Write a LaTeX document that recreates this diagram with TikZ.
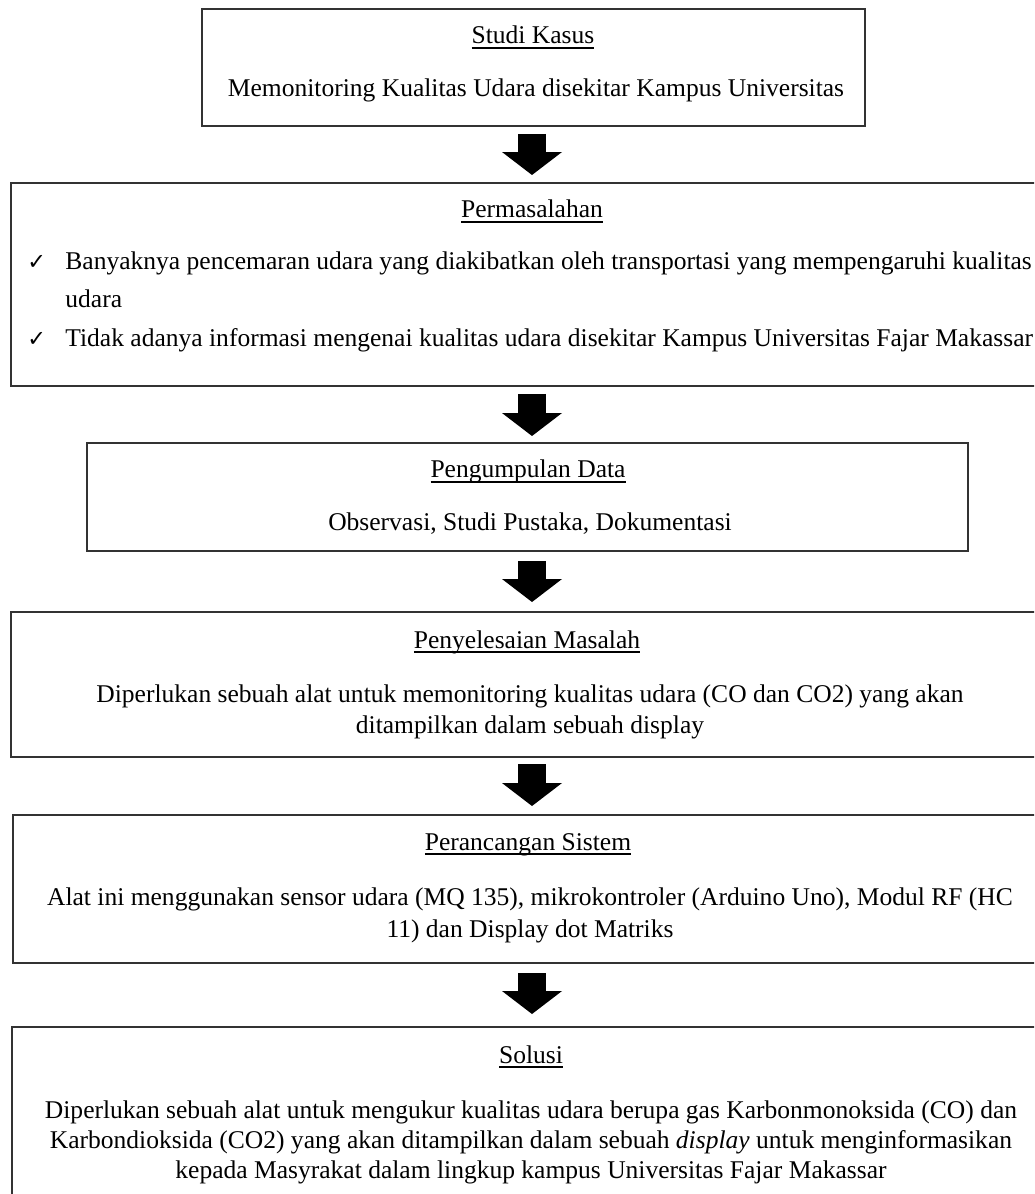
\documentclass[tikz,border=0pt]{standalone}
\usepackage{fontspec}
\setmainfont{Liberation Serif}
\newfontfamily\checkfont{DejaVu Sans}
\usetikzlibrary{arrows.meta}
\newcommand{\pu}{0.47pt}
\newsavebox{\ulbox}
\newcommand{\ulword}[1]{\sbox{\ulbox}{#1}\rlap{\rule[-2.2pt]{\wd\ulbox}{0.6pt}}\usebox{\ulbox}}
\tikzset{>=latex}
\tikzset{
  box/.style={draw=black!80, line width=0.94pt, rectangle, inner sep=0pt},
  head/.style={anchor=base, inner sep=0pt, font=\fontsize{12}{14.4}\selectfont},
  body/.style={anchor=base, inner sep=0pt, font=\fontsize{12}{14.4}\selectfont},
  item/.style={anchor=base west, inner sep=0pt, font=\fontsize{12}{14.4}\selectfont},
  tick/.style={anchor=base west, inner sep=0pt, font=\checkfont\fontsize{10.5}{12}\selectfont},
  bigarrow/.style 2 args={line width=13.6pt,
    -{Triangle[width=28.2pt, length=10.8pt, line width=0pt]},
    shorten <=#1*\pu, shorten >=#2*\pu}
}

\begin{document}
\begin{tikzpicture}[x=\pu, y=-\pu]
\useasboundingbox (0,0) rectangle (1034,1194);
\clip (0,0) rectangle (1034,1194);
\coordinate (col) at (532,0);

% boxes
\node[box, minimum width=663*\pu, minimum height=117*\pu] (studi) at (533.5,67.5) {};
\node[box, minimum width=1039*\pu, minimum height=203*\pu] (masalah) at (530.5,284.5) {};
\node[box, minimum width=881*\pu, minimum height=108*\pu] (data) at (527.5,497) {};
\node[box, minimum width=1039*\pu, minimum height=145*\pu] (selesai) at (530.5,684.5) {};
\node[box, minimum width=1037*\pu, minimum height=148*\pu] (rancang) at (531.5,889) {};
\node[box, minimum width=1038*\pu, minimum height=203*\pu] (solusi) at (531,1128.5) {};

% Studi Kasus
\node[head] (h1) at (533,44) {\ulword{Studi Kasus}};
\node[body] (t1) at (536,97) {Memonitoring Kualitas Udara disekitar Kampus Universitas};

% Permasalahan
\node[head] (h2) at (532,218) {\ulword{Permasalahan}};
\node[tick] (c1) at (27,270) {✓};
\node[item] (t2a) at (65,270) {Banyaknya pencemaran udara yang diakibatkan oleh transportasi yang mempengaruhi kualitas};
\node[item] (t2b) at (65,308) {udara};
\node[tick] (c2) at (27,347) {✓};
\node[item] (t2c) at (65,347) {Tidak adanya informasi mengenai kualitas udara disekitar Kampus Universitas Fajar Makassar};

% Pengumpulan Data
\node[head] (h3) at (528,478) {\ulword{Pengumpulan Data}};
\node[body] (t3) at (530,530) {Observasi, Studi Pustaka, Dokumentasi};

% Penyelesaian Masalah
\node[head] (h4) at (527,648) {\ulword{Penyelesaian Masalah}};
\node[body] (t4a) at (530,702) {Diperlukan sebuah alat untuk memonitoring kualitas udara (CO dan CO2) yang akan};
\node[body] (t4b) at (530,733) {ditampilkan dalam sebuah display};

% Perancangan Sistem
\node[head] (h5) at (528,850) {\ulword{Perancangan Sistem}};
\node[body] (t5a) at (530,905) {Alat ini menggunakan sensor udara (MQ 135), mikrokontroler (Arduino Uno), Modul RF (HC};
\node[body] (t5b) at (530,937) {11) dan Display dot Matriks};

% Solusi
\node[head] (h6) at (531,1063) {\ulword{Solusi}};
\node[body] (t6a) at (531,1118) {Diperlukan sebuah alat untuk mengukur kualitas udara berupa gas Karbonmonoksida (CO) dan};
\node[body] (t6b) at (531,1148) {Karbondioksida (CO2) yang akan ditampilkan dalam sebuah \textit{display} untuk menginformasikan};
\node[body] (t6c) at (531,1178) {kepada Masyrakat dalam lingkup kampus Universitas Fajar Makassar};

% arrows
\draw[bigarrow={7}{7}] (studi.south -| col) -- (masalah.north -| col);
\draw[bigarrow={7}{6}] (masalah.south -| col) -- (data.north -| col);
\draw[bigarrow={9}{9}] (data.south -| col) -- (selesai.north -| col);
\draw[bigarrow={6}{8}] (selesai.south -| col) -- (rancang.north -| col);
\draw[bigarrow={9}{12}] (rancang.south -| col) -- (solusi.north -| col);

\end{tikzpicture}
\end{document}
